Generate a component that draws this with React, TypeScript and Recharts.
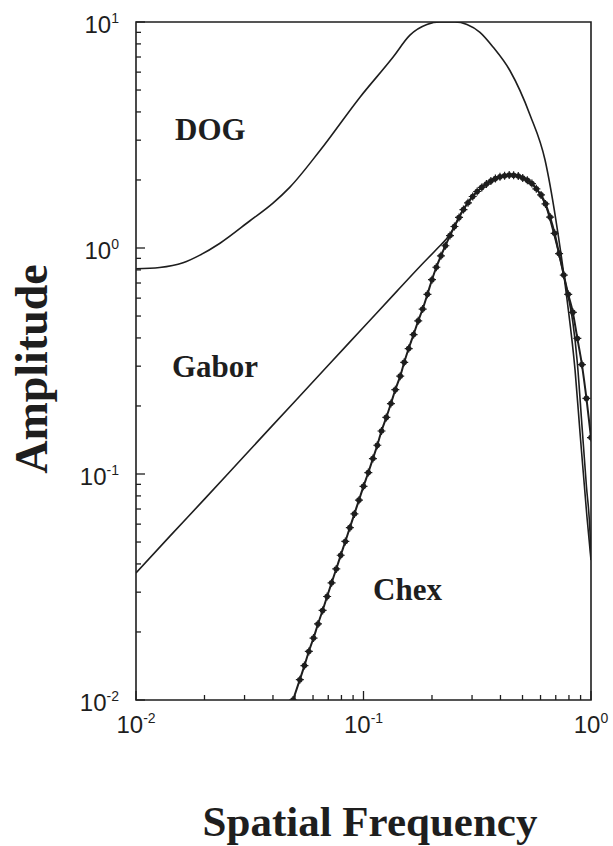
import { LineChart, Line, XAxis, YAxis, ReferenceArea } from "recharts";

// spatial frequency grid (cycles) and amplitudes
const xTicks = [0.01, 0.02, 0.03, 0.04, 0.05, 0.06, 0.07, 0.08, 0.09, 0.1, 0.2, 0.3, 0.4, 0.5, 0.6, 0.7, 0.8, 0.9, 1];
const yTicks = [
  0.01, 0.02, 0.03, 0.04, 0.05, 0.06, 0.07, 0.08, 0.09, 0.1, 0.2, 0.3, 0.4, 0.5, 0.6, 0.7, 0.8, 0.9,
  1, 2, 3, 4, 5, 6, 7, 8, 9, 10,
];

const dogFreq = [0.01, 0.0127, 0.0161, 0.0191, 0.0234, 0.0317, 0.04, 0.0475, 0.0644, 0.0967, 0.135, 0.16, 0.19, 0.217, 0.252, 0.285, 0.325, 0.371, 0.44, 0.54, 0.628, 0.701, 0.785, 0.851, 0.895, 0.96, 1.0];
const dogAmp = [0.81, 0.82, 0.86, 0.93, 1.05, 1.32, 1.58, 1.86, 2.7, 4.66, 7.0, 8.75, 9.75, 10.0, 10.0, 9.75, 9.0, 7.75, 6.1, 3.87, 2.45, 1.33, 0.59, 0.288, 0.152, 0.0645, 0.0416];

const gaborFreq = [0.01, 0.0141, 0.02, 0.03, 0.05, 0.07, 0.1, 0.14, 0.18, 0.21, 0.24, 0.275, 0.302, 0.331, 0.363, 0.398, 0.437, 0.479, 0.525, 0.575, 0.631, 0.692, 0.759, 0.794, 0.832, 0.871, 0.912, 0.955, 0.99, 1.0];
const gaborAmp = [0.0365, 0.0531, 0.0774, 0.1205, 0.21, 0.303, 0.446, 0.643, 0.843, 0.99, 1.15, 1.49, 1.7, 1.86, 1.98, 2.07, 2.11, 2.1, 2.0, 1.83, 1.55, 1.12, 0.76, 0.61, 0.47, 0.31, 0.165, 0.088, 0.055, 0.042];

const chexFreq = [
  0.049, 0.0525, 0.055, 0.0575, 0.0603, 0.0631, 0.0661, 0.0692, 0.0724, 0.0759, 0.0794, 0.0832, 0.0871, 0.0912, 0.0955,
  0.1, 0.105, 0.11, 0.115, 0.12, 0.126, 0.132, 0.138, 0.145, 0.151, 0.158, 0.166, 0.174, 0.182, 0.191,
  0.2, 0.209, 0.219, 0.229, 0.24, 0.251, 0.263, 0.275, 0.288, 0.302, 0.316, 0.331, 0.347, 0.363, 0.38, 0.398, 0.417,
  0.437, 0.457, 0.479, 0.501, 0.525, 0.55, 0.575, 0.603, 0.631, 0.661, 0.692, 0.724, 0.759, 0.794, 0.832, 0.871, 0.912, 0.955, 1.0,
];
const chexAmp = [
  0.01, 0.0123, 0.0142, 0.0164, 0.0188, 0.0217, 0.0249, 0.0287, 0.033, 0.038, 0.0437, 0.0503, 0.0579, 0.0666, 0.0766,
  0.0882, 0.1015, 0.117, 0.134, 0.155, 0.178, 0.205, 0.236, 0.271, 0.312, 0.359, 0.414, 0.476, 0.537, 0.624,
  0.724, 0.822, 0.923, 1.023, 1.135, 1.245, 1.365, 1.479, 1.585, 1.69, 1.778, 1.854, 1.919, 1.977, 2.028, 2.065, 2.089,
  2.104, 2.099, 2.08, 2.042, 1.995, 1.928, 1.828, 1.718, 1.567, 1.371, 1.161, 0.944, 0.759, 0.624, 0.519, 0.398, 0.305, 0.216, 0.145,
];

const toRows = (f: number[], a: number[]) => f.map((freq, i) => ({ freq, amp: a[i] }));
const dogData = toRows(dogFreq, dogAmp);
const gaborData = toRows(gaborFreq, gaborAmp);
const chexData = toRows(chexFreq, chexAmp);

const INK = "#1e1e1e";
const SANS = "'Liberation Sans', Arial, sans-serif";
const SERIF = "'Liberation Serif', 'Times New Roman', serif";

const isMajor = (v: number) => {
  const e = Math.log10(v);
  return Math.abs(e - Math.round(e)) < 1e-6;
};

function XTick({ x, y, payload }: any) {
  const v = payload.value;
  const major = isMajor(v);
  return (
    <g>
      <line x1={x} y1={y} x2={x} y2={y - (major ? 9 : 5)} stroke={INK} strokeWidth={1.3} />
      {major && (
        <text x={x} y={y + 33} textAnchor="middle" fontFamily={SANS} fontSize={24} fill={INK}>
          10
          <tspan dy={-10} fontSize={14}>
            {Math.round(Math.log10(v))}
          </tspan>
        </text>
      )}
    </g>
  );
}

function YTick({ x, y, payload }: any) {
  const v = payload.value;
  const major = isMajor(v);
  return (
    <g>
      <line x1={x} y1={y} x2={x + (major ? 9 : 5)} y2={y} stroke={INK} strokeWidth={1.3} />
      {major && (
        <text x={x - 17} y={y + 11} textAnchor="end" fontFamily={SANS} fontSize={24} fill={INK}>
          10
          <tspan dy={-10} fontSize={14}>
            {Math.round(Math.log10(v))}
          </tspan>
        </text>
      )}
    </g>
  );
}

function ChexDot(props: any) {
  const { cx, cy, index } = props;
  if (cx == null || cy == null) return null;
  return (
    <g key={index}>
      <circle cx={cx} cy={cy} r={2.8} fill={INK} />
      <path d={`M${cx - 4},${cy}H${cx + 4}M${cx},${cy - 4}V${cy + 4}`} stroke={INK} strokeWidth={1.2} />
    </g>
  );
}

export default function App() {
  return (
    <div style={{ position: "absolute", left: 0, top: 0, width: 613, height: 846, background: "#fff" }}>
      <LineChart width={613} height={846} margin={{ top: 22, right: 22, left: 76, bottom: 116 }}>
        <XAxis
          type="number"
          dataKey="freq"
          scale="log"
          domain={[0.01, 1]}
          allowDataOverflow
          ticks={xTicks}
          interval={0}
          height={30}
          tickSize={0}
          tickMargin={0}
          tickLine={false}
          axisLine={false}
          tick={<XTick />}
        />
        <YAxis
          type="number"
          dataKey="amp"
          scale="log"
          domain={[0.01, 10]}
          allowDataOverflow
          ticks={yTicks}
          interval={0}
          width={60}
          tickSize={0}
          tickMargin={0}
          tickLine={false}
          axisLine={false}
          tick={<YTick />}
        />
        <ReferenceArea x1={0.01} x2={1} y1={0.01} y2={10} fill="none" stroke={INK} strokeWidth={1.6} />
        <Line data={dogData} dataKey="amp" type="monotone" stroke={INK} strokeWidth={1.6} dot={false} isAnimationActive={false} />
        <Line data={gaborData} dataKey="amp" type="monotone" stroke={INK} strokeWidth={1.6} dot={false} isAnimationActive={false} />
        <Line data={chexData} dataKey="amp" type="monotone" stroke={INK} strokeWidth={2} dot={<ChexDot />} isAnimationActive={false} />
      </LineChart>
      <svg width={613} height={846} style={{ position: "absolute", left: 0, top: 0, pointerEvents: "none" }}>
        <g fontFamily={SERIF} fontWeight="bold" fill={INK}>
          <text x={175} y={140} fontSize={31}>DOG</text>
          <text x={172} y={377} fontSize={31}>Gabor</text>
          <text x={373} y={600} fontSize={31}>Chex</text>
          <text x={370} y={836} fontSize={43} textAnchor="middle">Spatial Frequency</text>
          <text x={47} y={369} fontSize={46} textAnchor="middle" transform="rotate(-90 47 369)">Amplitude</text>
        </g>
      </svg>
    </div>
  );
}
